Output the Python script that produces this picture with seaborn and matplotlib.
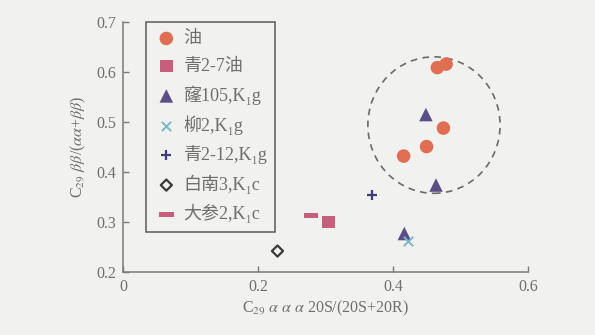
import matplotlib
matplotlib.use("Agg")
import matplotlib.pyplot as plt
from matplotlib.patches import Ellipse
import seaborn as sns
import pandas as pd

# Sample groups and their biomarker ratios
groups = ["油", "青2-7油", "窿105,K₁g", "柳2,K₁g", "青2-12,K₁g", "白南3,K₁c", "大参2,K₁c"]

x_oil = [0.466, 0.479, 0.475, 0.450, 0.416]
y_oil = [0.609, 0.616, 0.488, 0.451, 0.432]
x_q27 = [0.305]
y_q27 = [0.300]
x_l105 = [0.449, 0.464, 0.417]
y_l105 = [0.515, 0.374, 0.277]
x_liu2 = [0.423]
y_liu2 = [0.262]
x_q212 = [0.369]
y_q212 = [0.354]
x_bn3 = [0.229]
y_bn3 = [0.242]
x_dc2 = [0.279]
y_dc2 = [0.313]

x_ticks = [0, 0.2, 0.4, 0.6]
y_ticks = [0.2, 0.3, 0.4, 0.5, 0.6, 0.7]

# Oil-source cluster outline (centre and extent in data units)
cluster_center = (0.461, 0.494)
cluster_width = 0.196
cluster_height = 0.273

bg = "#f1f1ef"
text_c = "#6e6e6e"
spine_c = "#7a7a7a"

sns.set_theme(style="ticks")
plt.rcParams["font.family"] = ["Liberation Serif", "Noto Sans CJK SC", "DejaVu Sans"]
plt.rcParams["mathtext.fontset"] = "stix"

fig = plt.figure(figsize=(5.95, 3.35), dpi=100, facecolor=bg)
ax = fig.add_axes([0.2067, 0.188, 0.887 - 0.2067, 0.934 - 0.188])
ax.set_facecolor(bg)

series = [
    (x_oil, y_oil, dict(marker="o", color="#e06e52", s=95, edgecolor="none")),
    (x_q27, y_q27, dict(marker="s", color="#c65f7c", s=85, edgecolor="none")),
    (x_l105, y_l105, dict(marker="^", color="#5c4f88", s=95, edgecolor="none")),
    (x_liu2, y_liu2, dict(marker="x", color="#7db6c6", s=45, linewidth=1.4)),
    (x_q212, y_q212, dict(marker="+", color="#3d3c78", s=60, linewidth=1.6)),
    (x_bn3, y_bn3, dict(marker="D", facecolor="none", edgecolor="#3a3a3a", s=32, linewidth=1.6)),
    (x_dc2, y_dc2, dict(marker=[(-1, -0.32), (1, -0.32), (1, 0.32), (-1, 0.32)],
                        color="#c65f7c", s=110, edgecolor="none")),
]

for name, (xs, ys, kw) in zip(groups, series):
    df = pd.DataFrame({"x": xs, "y": ys})
    sns.scatterplot(data=df, x="x", y="y", ax=ax, label=name, zorder=3, **kw)

ax.add_patch(Ellipse(cluster_center, cluster_width, cluster_height, fill=False,
                     edgecolor="#6a6a6a", linestyle=(0, (4, 3.2)), linewidth=1.2, zorder=2))

ax.set_xlim(0, 0.6)
ax.set_ylim(0.2, 0.7)
ax.set_xticks(x_ticks)
ax.set_xticklabels(["0", "0.2", "0.4", "0.6"])
ax.set_yticks(y_ticks)
ax.set_yticklabels([f"{v:.1f}" for v in y_ticks])
ax.tick_params(direction="in", length=4, width=1, colors=spine_c, labelcolor=text_c,
               labelsize=11.5, pad=5)

for side in ["top", "right"]:
    ax.spines[side].set_visible(False)
for side in ["left", "bottom"]:
    ax.spines[side].set_color(spine_c)
    ax.spines[side].set_linewidth(1.1)

ax.set_xlabel(r"C$_{29}$ $\alpha\ \alpha\ \alpha$ 20S/(20S+20R)", color=text_c,
              fontsize=11.5, labelpad=3)
ax.set_ylabel(r"C$_{29}$ $\beta\beta$/($\alpha\alpha$+$\beta\beta$)", color=text_c,
              fontsize=11.5, labelpad=6)

leg = ax.legend(loc="upper left", bbox_to_anchor=(0.058, 1.0), frameon=True, fancybox=False,
                fontsize=13, labelspacing=0.58, handletextpad=0.3, handlelength=1.3,
                borderpad=0.45, borderaxespad=0, labelcolor=text_c)
leg.get_frame().set_edgecolor("#5a5a5a")
leg.get_frame().set_linewidth(1.1)
leg.get_frame().set_facecolor(bg)
leg.get_frame().set_alpha(1)

fig.savefig("out.png", dpi=100, facecolor=bg)
